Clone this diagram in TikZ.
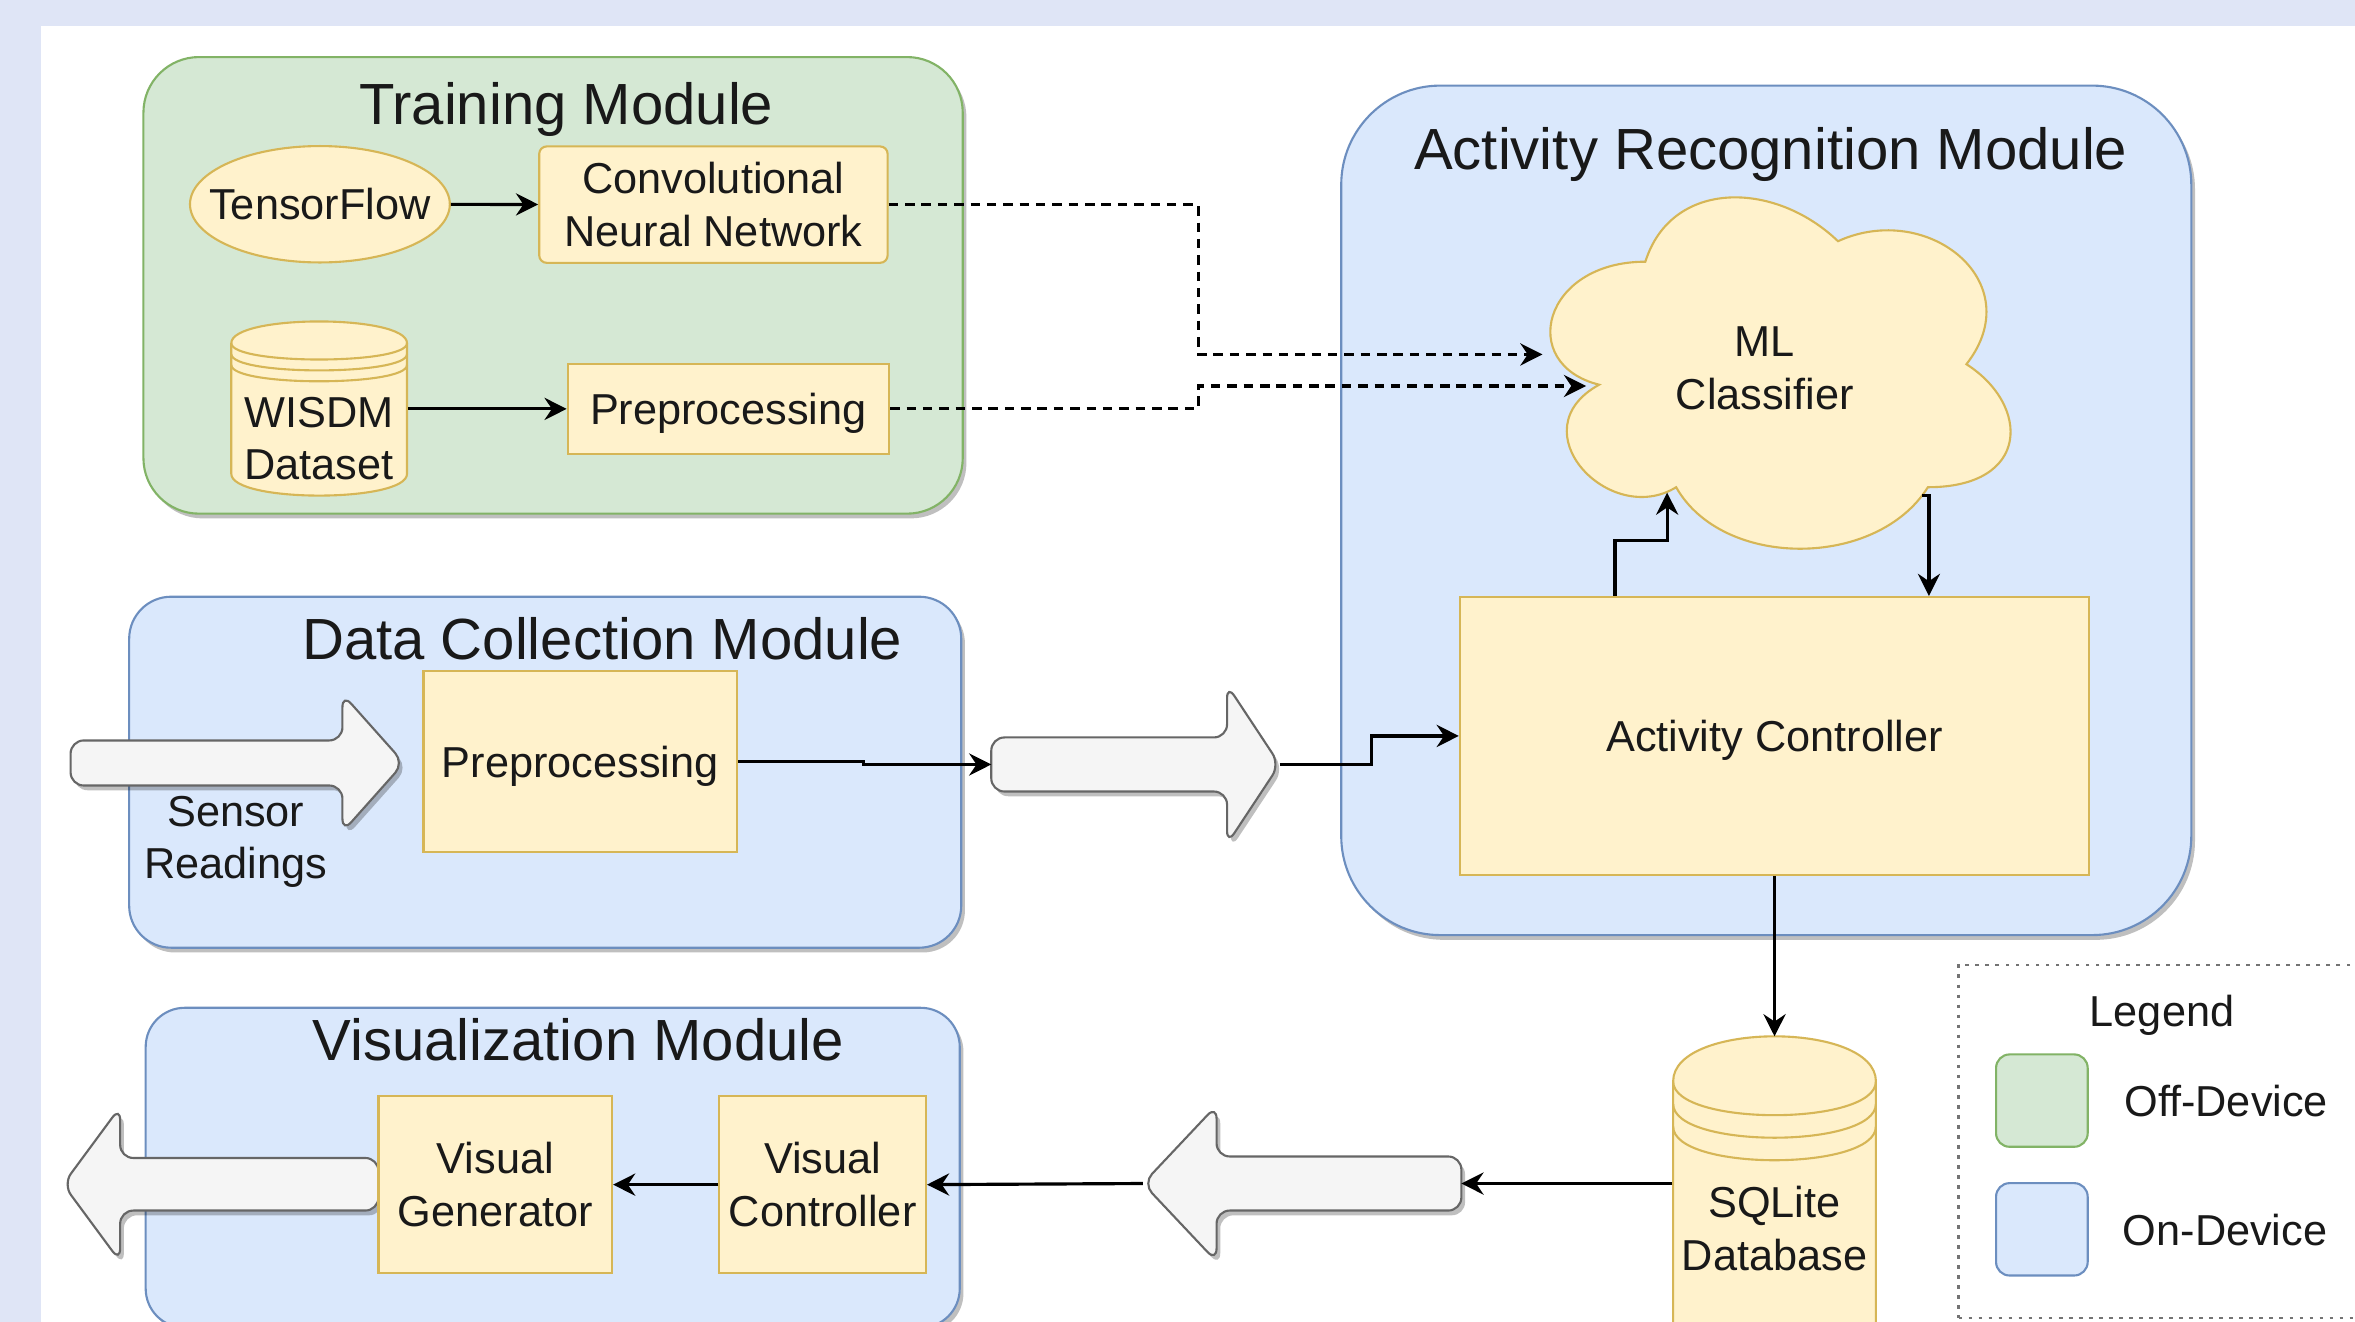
\documentclass[tikz,border=0pt]{standalone}
\usepackage{fontspec}
\setmainfont{Liberation Sans}
\usetikzlibrary{arrows.meta,shapes.geometric,shadows,positioning}

\definecolor{pagebg}{RGB}{223,229,246}
\definecolor{offfill}{HTML}{D5E8D4}
\definecolor{offline}{HTML}{82B366}
\definecolor{onfill}{HTML}{DAE8FC}
\definecolor{online}{HTML}{6C8EBF}
\definecolor{partfill}{HTML}{FFF2CC}
\definecolor{partline}{HTML}{D6B656}
\definecolor{flowfill}{HTML}{F5F5F5}
\definecolor{flowline}{HTML}{666666}

\begin{document}
\begin{tikzpicture}[
	modshadow/.style={drop shadow={shadow xshift=0.7pt,shadow yshift=-0.9pt,opacity=0.25,fill=black}},
	offmod/.style={draw=offline,fill=offfill,line width=0.4pt,modshadow},
	onmod/.style={draw=online,fill=onfill,line width=0.4pt,modshadow},
	modtitle/.style={inner sep=0pt,text depth=0pt,text=black!90,font=\fontsize{11}{13}\selectfont},
	lbl/.style={inner sep=0pt,align=center,text=black!90,font=\fontsize{8.2}{10}\selectfont},
	oneline/.style={text depth=0pt},
	partbox/.style={lbl,draw=partline,fill=partfill,line width=0.4pt},
	flowarrow/.style={draw=flowline,fill=flowfill,line width=0.4pt,rounded corners=2.5pt,modshadow},
	conn/.style={line width=0.6pt,-{Stealth[length=4.2pt,width=4.2pt,inset=1.4pt]}},
	dashconn/.style={conn,dash pattern=on 1.8pt off 1.3pt},
	legendbox/.style={draw=black!55,line width=0.4pt,dash pattern=on 0.7pt off 1.2pt}
]
	\useasboundingbox (0,0) rectangle (15.68,8.80);
	\clip (0,0) rectangle (15.68,8.80);
	\fill[pagebg] (0,0) rectangle (15.68,8.80);
	\fill[white] (0.275,0) rectangle (15.68,8.625);

	% modules
	\node[offmod,minimum width=5.455cm,minimum height=3.04cm,rounded corners=0.37cm] (train) at (3.6825,6.90) {};
	\node[onmod,minimum width=5.66cm,minimum height=5.656cm,rounded corners=0.66cm] (arm) at (11.76,5.402) {};
	\node[onmod,minimum width=5.54cm,minimum height=2.337cm,rounded corners=0.28cm] (dc) at (3.63,3.6585) {};
	\node[onmod,minimum width=5.42cm,minimum height=2.13cm,rounded corners=0.26cm] (vis) at (3.68,1.025) {};

	\node[modtitle] (traintitle) at (3.77,8.11) {Training Module};
	\node[modtitle] (armtitle) at (11.79,7.81) {Activity Recognition Module};
	\node[modtitle] (dctitle) at (4.01,4.55) {Data Collection Module};
	\node[modtitle] (vistitle) at (3.85,1.88) {Visualization Module};

	% legend
	\node[legendbox,minimum width=2.80cm,minimum height=2.35cm] (legend) at (14.44,1.20) {};
	\node[lbl,oneline] (legendtitle) at (14.395,2.07) {Legend};
	\node[draw=offline,fill=offfill,line width=0.4pt,rounded corners=0.09cm,minimum width=0.61cm,minimum height=0.615cm] (offkey) at (13.595,1.472) {};
	\node[draw=online,fill=onfill,line width=0.4pt,rounded corners=0.09cm,minimum width=0.61cm,minimum height=0.615cm] (onkey) at (13.595,0.615) {};
	\node[lbl,oneline,right=0.23cm of offkey] (offtxt) {Off-Device};
	\node[lbl,oneline,right=0.22cm of onkey] (ontxt) {On-Device};

	% data stores
	\draw[draw=partline,fill=partfill,line width=0.4pt] (1.54,6.515) .. controls (1.54,6.708) and (2.71,6.708) .. (2.71,6.515) -- (2.71,5.645) .. controls (2.71,5.452) and (1.54,5.452) .. (1.54,5.645) -- cycle;
	\foreach \k in {0,1,2}
		\draw[partline,line width=0.4pt] (1.54,{6.515-0.0725*\k}) .. controls (1.54,{6.37-0.0725*\k}) and (2.71,{6.37-0.0725*\k}) .. (2.71,{6.515-0.0725*\k});
	\draw[draw=partline,fill=partfill,line width=0.4pt] (11.14,1.60) .. controls (11.14,2.00) and (12.49,2.00) .. (12.49,1.60) -- (12.49,-0.20) .. controls (12.49,-0.60) and (11.14,-0.60) .. (11.14,-0.20) -- cycle;
	\foreach \k in {0,1,2}
		\draw[partline,line width=0.4pt] (11.14,{1.60-0.15*\k}) .. controls (11.14,{1.30-0.15*\k}) and (12.49,{1.30-0.15*\k}) .. (12.49,{1.60-0.15*\k});

	% cloud
	\draw[draw=partline,fill=partfill,line width=0.4pt] (10.955,7.0575) .. controls (10.271,7.0575) and (10.10,6.375) .. (10.647,6.2385)
		.. controls (10.10,5.938) and (10.716,5.283) .. (11.160,5.556)
		.. controls (11.468,5.01) and (12.494,5.01) .. (12.836,5.556)
		.. controls (13.52,5.556) and (13.52,6.102) .. (13.0925,6.375)
		.. controls (13.52,6.921) and (12.836,7.467) .. (12.2375,7.194)
		.. controls (11.81,7.6035) and (11.126,7.6035) .. (10.955,7.0575) -- cycle;

	% flow arrows
	\draw[flowarrow] (0.47,3.87) -- (2.28,3.87) -- (2.28,4.18) -- (2.69,3.72) -- (2.28,3.26) -- (2.28,3.57) -- (0.47,3.57) -- cycle;
	\draw[flowarrow] (6.60,3.89) -- (8.17,3.89) -- (8.17,4.24) -- (8.52,3.71) -- (8.17,3.18) -- (8.17,3.53) -- (6.60,3.53) -- cycle;
	\draw[flowarrow] (9.73,1.10) -- (8.10,1.10) -- (8.10,1.44) -- (7.61,0.92) -- (8.10,0.40) -- (8.10,0.74) -- (9.73,0.74) -- cycle;
	\draw[flowarrow] (2.52,1.09) -- (0.80,1.09) -- (0.80,1.43) -- (0.42,0.915) -- (0.80,0.40) -- (0.80,0.74) -- (2.52,0.74) -- cycle;

	\coordinate (flow2tail) at (6.60,3.71);
	\coordinate (flow2tip) at (8.52,3.71);
	\coordinate (flow3tail) at (9.73,0.92);
	\coordinate (flow3tip) at (7.61,0.92);
	\coordinate (sqltop) at (11.815,1.90);
	\coordinate (cloudin1) at (10.27,6.44);
	\coordinate (cloudin2) at (10.56,6.23);
	\coordinate (cloudbl) at (11.10,5.52);
	\coordinate (cloudbr) at (12.80,5.50);

	% parts
	\node[partbox,ellipse,minimum width=1.73cm,minimum height=0.775cm] (tf) at (2.13,7.44) {\makebox[0pt]{TensorFlow}};
	\node[partbox,rounded corners=0.05cm,minimum width=2.32cm,minimum height=0.775cm] (cnn) at (4.75,7.4375) {Convolutional\\Neural Network};
	\node[partbox,oneline,minimum width=2.14cm,minimum height=0.595cm] (prept) at (4.85,6.0775) {Preprocessing};
	\node[lbl,minimum width=1.17cm] (wisdm) at (2.125,5.88) {WISDM\\Dataset};
	\node[partbox,oneline,minimum width=2.085cm,minimum height=1.20cm] (prepdc) at (3.8625,3.73) {Preprocessing};
	\node[lbl] (sensor) at (1.57,3.195) {Sensor\\Readings};
	\node[lbl] (mlc) at (11.75,6.35) {ML\\Classifier};
	\node[partbox,oneline,minimum width=4.19cm,minimum height=1.85cm] (actrl) at (11.815,3.90) {Activity Controller};
	\node[lbl,minimum width=1.35cm] (sql) at (11.815,0.62) {SQLite\\Database};
	\node[partbox,minimum width=1.375cm,minimum height=1.175cm] (vc) at (5.4775,0.9125) {Visual\\Controller};
	\node[partbox,minimum width=1.555cm,minimum height=1.175cm] (vg) at (3.2975,0.9125) {Visual\\Generator};

	% connectors
	\draw[conn] (tf) -- (cnn);
	\draw[conn] (wisdm.east |- prept.west) -- (prept.west);
	\draw[dashconn] (cnn.east) -- ++(2.06,0) |- (cloudin1);
	\draw[dashconn] (prept.east) -- ++(2.05,0) |- (cloudin2);
	\draw[conn] ([xshift=1.04cm]actrl.north west) |- ([yshift=-0.32cm]cloudbl) -- (cloudbl);
	\draw[conn] (cloudbr) -| ([xshift=3.13cm]actrl.north west);
	\draw[conn] (prepdc.east) -- ++(0.835,0) |- (flow2tail);
	\draw[conn] (flow2tip) -- ++(0.61,0) |- (actrl.west);
	\draw[conn] (actrl.south) -- (sqltop);
	\draw[conn] (sql.west |- flow3tail) -- (flow3tail);
	\draw[conn] (flow3tip) -- (vc.east);
	\draw[conn] (vc) -- (vg);
\end{tikzpicture}
\end{document}
